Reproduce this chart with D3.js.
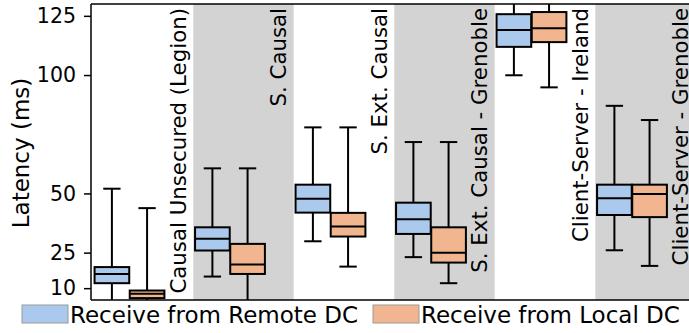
<!DOCTYPE html>
<html>
<head>
<meta charset="utf-8">
<script src="https://cdn.jsdelivr.net/npm/d3@7"></script>
<style>
  html, body { margin: 0; padding: 0; background: #fff; }
  svg { display: block; font-family: "DejaVu Sans", sans-serif; }
</style>
</head>
<body>
<svg id="chart" width="689" height="333"></svg>
<script>
// Protocol configurations, one shaded/unshaded column each
const groups = [
  "Causal Unsecured (Legion)",
  "S. Causal",
  "S. Ext. Causal",
  "S. Ext. Causal - Grenoble",
  "Client-Server - Ireland",
  "Client-Server - Grenoble"
];
const seriesNames = ["Receive from Remote DC", "Receive from Local DC"];
const seriesColors = ["#aac9ec", "#f1b68f"];

// Box statistics per group: [lower whisker, Q1, median, Q3, upper whisker] (ms)
const remoteStats = [
  [2, 12.1, 16.0, 18.9, 52],
  [14.9, 25.9, 30.9, 35.7, 60.6],
  [29.8, 41.9, 47.8, 53.7, 77.9],
  [23.1, 32.9, 39.1, 46.1, 71.7],
  [99.9, 111.9, 119.0, 125.7, 140],
  [26.0, 40.9, 48.0, 53.7, 87.0]
];
const localStats = [
  [3, 5.8, 7.6, 9.0, 43.8],
  [2, 16.0, 20.0, 28.7, 60.6],
  [19.1, 31.8, 36.0, 41.8, 77.9],
  [12.1, 20.8, 25.0, 35.7, 71.7],
  [94.8, 113.9, 119.8, 126.6, 140],
  [19.4, 40.0, 49.8, 53.7, 81.0]
];
const yTicks = [10, 25, 50, 100, 125];
const yDomain = [5, 130];

const svg = d3.select("#chart");
const plotLeft = 91, plotTop = 4, plotBottom = 300;

const x = d3.scaleLinear().domain([0, groups.length]).range([92.8, 695.8]);
const y = d3.scaleLinear().domain(yDomain).range([plotBottom, plotTop]);

const boxW = 0.345;                 // box width in group units
const offsets = [0.19, 0.54];       // box centres within a group

svg.append("defs").append("clipPath").attr("id", "clip")
  .append("rect").attr("x", plotLeft).attr("y", plotTop)
  .attr("width", 700).attr("height", plotBottom - plotTop);
const plot = svg.append("g").attr("clip-path", "url(#clip)");

// Alternating background bands
plot.selectAll("rect.band").data(groups).join("rect")
  .attr("class", "band")
  .attr("x", (d, i) => x(i)).attr("y", plotTop)
  .attr("width", x(1) - x(0)).attr("height", plotBottom - plotTop)
  .attr("fill", (d, i) => i % 2 ? "#d3d3d3" : "#ffffff");

// Group names, vertical, hanging from the top
plot.selectAll("text.glabel").data(groups).join("text")
  .attr("class", "glabel")
  .attr("transform", (d, i) => `translate(${x(i) + 93},8) rotate(-90)`)
  .attr("text-anchor", "end")
  .attr("font-size", 21.3)
  .attr("fill", "#000")
  .text(d => d);

const series = [remoteStats, localStats];
series.forEach((stats, s) => {
  const g = plot.append("g");
  stats.forEach((st, i) => {
    const cx = x(i + offsets[s]);
    const half = (x(boxW) - x(0)) / 2;
    const cap = half / 2;
    const [lo, q1, med, q3, hi] = st;
    // whiskers
    g.append("line").attr("x1", cx).attr("x2", cx).attr("y1", y(hi)).attr("y2", y(q3))
      .attr("stroke", "#000").attr("stroke-width", 2);
    g.append("line").attr("x1", cx).attr("x2", cx).attr("y1", y(q1)).attr("y2", y(lo))
      .attr("stroke", "#000").attr("stroke-width", 2);
    g.append("line").attr("x1", cx - cap).attr("x2", cx + cap).attr("y1", y(hi)).attr("y2", y(hi))
      .attr("stroke", "#000").attr("stroke-width", 2);
    g.append("line").attr("x1", cx - cap).attr("x2", cx + cap).attr("y1", y(lo)).attr("y2", y(lo))
      .attr("stroke", "#000").attr("stroke-width", 2);
    // box
    g.append("rect").attr("x", cx - half).attr("y", y(q3))
      .attr("width", 2 * half).attr("height", y(q1) - y(q3))
      .attr("fill", seriesColors[s]).attr("stroke", "#000").attr("stroke-width", 2);
    // median
    g.append("line").attr("x1", cx - half).attr("x2", cx + half).attr("y1", y(med)).attr("y2", y(med))
      .attr("stroke", "#000").attr("stroke-width", 2);
  });
});

// Axes frame
svg.append("line").attr("x1", plotLeft).attr("x2", 689).attr("y1", plotTop).attr("y2", plotTop)
  .attr("stroke", "#000").attr("stroke-width", 1.5);
svg.append("line").attr("x1", plotLeft).attr("x2", 689).attr("y1", plotBottom).attr("y2", plotBottom)
  .attr("stroke", "#000").attr("stroke-width", 1.5);

const yAxis = svg.append("g").attr("transform", `translate(${plotLeft},0)`)
  .call(d3.axisLeft(y).tickValues(yTicks).tickSize(7).tickPadding(8));
yAxis.select(".domain").attr("stroke-width", 1.5).attr("d", `M0,${plotTop}V${plotBottom}`);
yAxis.selectAll(".tick line").attr("stroke-width", 1.5);
yAxis.selectAll(".tick text").attr("font-size", 20.5).attr("font-family", "DejaVu Sans").attr("fill", "#000");

svg.append("text")
  .attr("transform", `translate(29,153) rotate(-90)`)
  .attr("text-anchor", "middle")
  .attr("font-size", 23)
  .text("Latency (ms)");

// Legend
const legendX = [22, 373];
const legend = svg.selectAll("g.leg").data(seriesNames).join("g")
  .attr("class", "leg")
  .attr("transform", (d, i) => `translate(${legendX[i]},305)`);
legend.append("rect").attr("width", 46).attr("height", 18)
  .attr("fill", (d, i) => seriesColors[i]).attr("stroke", "#999").attr("stroke-width", 1);
legend.append("text").attr("x", 48).attr("y", 18).attr("font-size", 23).text(d => d);
</script>
</body>
</html>
